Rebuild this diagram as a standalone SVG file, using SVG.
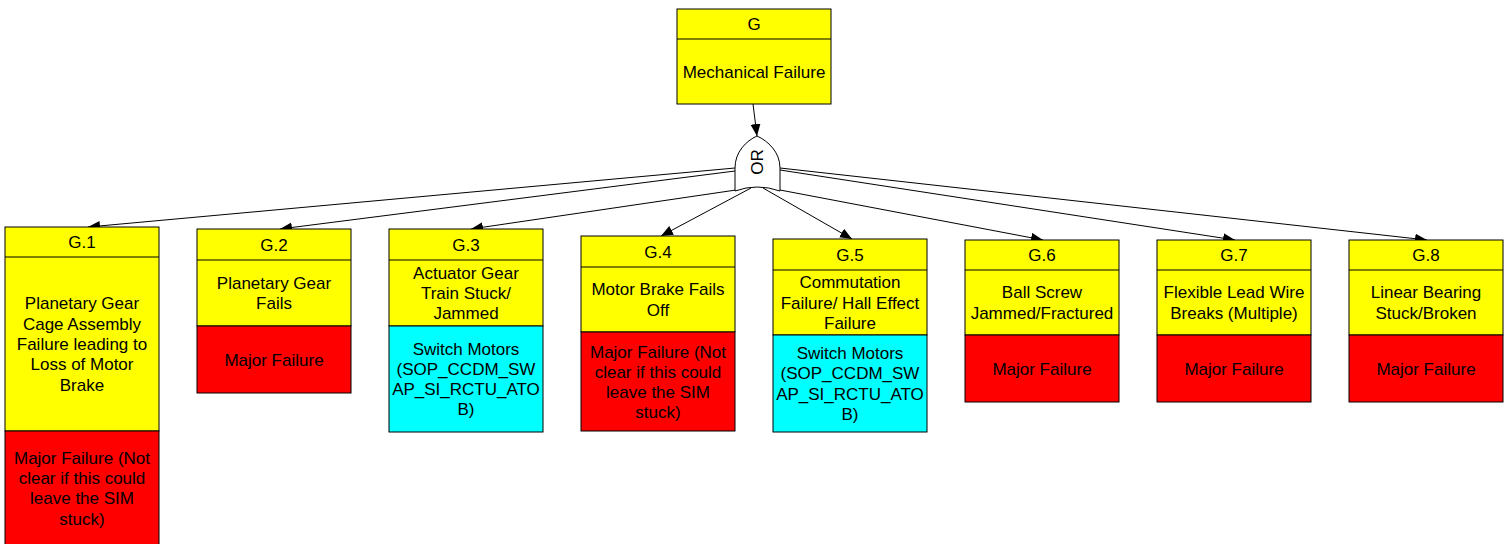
<svg xmlns="http://www.w3.org/2000/svg" width="1511" height="544" viewBox="0 0 1511 544">
  <style>
    .box { stroke: #000; stroke-width: 1; }
    .y { fill: #ffff00; }
    .r { fill: #ff0000; }
    .c { fill: #00ffff; }
    .t { font-family: "Liberation Sans", Arial, sans-serif; font-size: 17px; fill: #000; text-anchor: middle; }
    .edge { fill: none; stroke: #000; stroke-width: 1; marker-end: url(#arrow); }
    .gate { fill: #fff; stroke: #000; stroke-width: 1; }
  </style>
  <defs>
    <marker id="arrow" markerUnits="userSpaceOnUse" markerWidth="13" markerHeight="11" refX="12" refY="5" orient="auto">
      <path d="M0,0 L12,5 L0,10 Z" fill="#000"/>
    </marker>
  </defs>
  <rect width="1511" height="544" fill="#fff"/>

  <!-- connectors: top event to gate, gate to each sub-event -->
  <g id="connectors">
    <line class="edge" x1="753" y1="104" x2="757" y2="136"/>
    <line class="edge" x1="735" y1="168" x2="88" y2="227"/>
    <line class="edge" x1="735" y1="171" x2="280" y2="229"/>
    <line class="edge" x1="736" y1="190" x2="471" y2="229"/>
    <line class="edge" x1="751" y1="188" x2="661" y2="236"/>
    <line class="edge" x1="763" y1="188" x2="852" y2="239"/>
    <line class="edge" x1="780" y1="190" x2="1043" y2="240"/>
    <line class="edge" x1="780" y1="170" x2="1235" y2="240"/>
    <line class="edge" x1="780" y1="168" x2="1427" y2="240"/>
  </g>

  <!-- OR gate -->
  <g id="gate-or">
    <path class="gate" d="M735,191 L735,168 C735,152 746,141 757,136 C768,141 780,152 780,168 L780,191 Q757,183 735,191 Z"/>
    <text class="t" transform="translate(763,162) rotate(-90)">OR</text>
  </g>

  <!-- top event -->
  <g id="node-G">
    <rect class="box y" x="677" y="9" width="154" height="95"/>
    <line class="box" x1="677" y1="39" x2="831" y2="39"/>
    <text class="t" x="754" y="30">G</text>
    <text class="t" x="754" y="77.5">Mechanical Failure</text>
  </g>

  <g id="node-G1">
    <rect class="box y" x="5" y="227" width="154" height="204"/>
    <line class="box" x1="5" y1="257" x2="159" y2="257"/>
    <rect class="box r" x="5" y="431" width="154" height="114"/>
    <text class="t" x="82" y="248">G.1</text>
    <text class="t" x="82" y="309.4">Planetary Gear</text>
    <text class="t" x="82" y="329.7">Cage Assembly</text>
    <text class="t" x="82" y="350">Failure leading to</text>
    <text class="t" x="82" y="370.3">Loss of Motor</text>
    <text class="t" x="82" y="390.6">Brake</text>
    <text class="t" x="82" y="463.8">Major Failure (Not</text>
    <text class="t" x="82" y="484.1">clear if this could</text>
    <text class="t" x="82" y="504.4">leave the SIM</text>
    <text class="t" x="82" y="524.7">stuck)</text>
  </g>

  <g id="node-G2">
    <rect class="box y" x="197" y="229" width="154" height="97"/>
    <line class="box" x1="197" y1="260" x2="351" y2="260"/>
    <rect class="box r" x="197" y="326" width="154" height="67"/>
    <text class="t" x="274" y="250.5">G.2</text>
    <text class="t" x="274" y="288.8">Planetary Gear</text>
    <text class="t" x="274" y="309.1">Fails</text>
    <text class="t" x="274" y="365.5">Major Failure</text>
  </g>

  <g id="node-G3">
    <rect class="box y" x="389" y="229" width="154" height="97"/>
    <line class="box" x1="389" y1="260" x2="543" y2="260"/>
    <rect class="box c" x="389" y="326" width="154" height="106"/>
    <text class="t" x="466" y="250.5">G.3</text>
    <text class="t" x="466" y="278.7">Actuator Gear</text>
    <text class="t" x="466" y="299">Train Stuck/</text>
    <text class="t" x="466" y="319.3">Jammed</text>
    <text class="t" x="466" y="354.5">Switch Motors</text>
    <text class="t" x="466" y="374.8">(SOP_CCDM_SW</text>
    <text class="t" x="466" y="395.1">AP_SI_RCTU_ATO</text>
    <text class="t" x="466" y="415.4">B)</text>
  </g>

  <g id="node-G4">
    <rect class="box y" x="581" y="236" width="154" height="96"/>
    <line class="box" x1="581" y1="267" x2="735" y2="267"/>
    <rect class="box r" x="581" y="332" width="154" height="99"/>
    <text class="t" x="658" y="257.5">G.4</text>
    <text class="t" x="658" y="295.3">Motor Brake Fails</text>
    <text class="t" x="658" y="315.6">Off</text>
    <text class="t" x="658" y="357.5">Major Failure (Not</text>
    <text class="t" x="658" y="377.8">clear if this could</text>
    <text class="t" x="658" y="398.1">leave the SIM</text>
    <text class="t" x="658" y="418.4">stuck)</text>
  </g>

  <g id="node-G5">
    <rect class="box y" x="773" y="239" width="154" height="96"/>
    <line class="box" x1="773" y1="270" x2="927" y2="270"/>
    <rect class="box c" x="773" y="335" width="154" height="97"/>
    <text class="t" x="850" y="260.5">G.5</text>
    <text class="t" x="850" y="288.2">Commutation</text>
    <text class="t" x="850" y="308.5">Failure/ Hall Effect</text>
    <text class="t" x="850" y="328.8">Failure</text>
    <text class="t" x="850" y="359">Switch Motors</text>
    <text class="t" x="850" y="379.3">(SOP_CCDM_SW</text>
    <text class="t" x="850" y="399.6">AP_SI_RCTU_ATO</text>
    <text class="t" x="850" y="419.9">B)</text>
  </g>

  <g id="node-G6">
    <rect class="box y" x="965" y="240" width="154" height="95"/>
    <line class="box" x1="965" y1="270" x2="1119" y2="270"/>
    <rect class="box r" x="965" y="335" width="154" height="67"/>
    <text class="t" x="1042" y="261">G.6</text>
    <text class="t" x="1042" y="298.3">Ball Screw</text>
    <text class="t" x="1042" y="318.6">Jammed/Fractured</text>
    <text class="t" x="1042" y="374.5">Major Failure</text>
  </g>

  <g id="node-G7">
    <rect class="box y" x="1157" y="240" width="154" height="95"/>
    <line class="box" x1="1157" y1="270" x2="1311" y2="270"/>
    <rect class="box r" x="1157" y="335" width="154" height="67"/>
    <text class="t" x="1234" y="261">G.7</text>
    <text class="t" x="1234" y="298.3">Flexible Lead Wire</text>
    <text class="t" x="1234" y="318.6">Breaks (Multiple)</text>
    <text class="t" x="1234" y="374.5">Major Failure</text>
  </g>

  <g id="node-G8">
    <rect class="box y" x="1349" y="240" width="154" height="95"/>
    <line class="box" x1="1349" y1="270" x2="1503" y2="270"/>
    <rect class="box r" x="1349" y="335" width="154" height="67"/>
    <text class="t" x="1426" y="261">G.8</text>
    <text class="t" x="1426" y="298.3">Linear Bearing</text>
    <text class="t" x="1426" y="318.6">Stuck/Broken</text>
    <text class="t" x="1426" y="374.5">Major Failure</text>
  </g>
</svg>
